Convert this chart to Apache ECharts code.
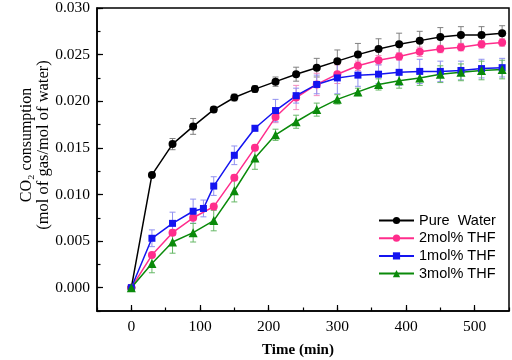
<!DOCTYPE html>
<html>
<head>
<meta charset="utf-8">
<script src="https://cdn.jsdelivr.net/npm/echarts@6/dist/echarts.min.js"></script>
<style>
html,body{margin:0;padding:0;background:#fff;}
#c{width:512px;height:360px;}
</style>
</head>
<body>
<div id="c"></div>
<script>
// ---- data ----
var times = [0,30,60,90,120,150,180,210,240,270,300,330,360,390,420,450,480,510,540];
var blueTimes = [0,30,60,90,105,120,150,180,210,240,270,300,330,360,390,420,450,480,510,540];

var pureWater = [0,0.0121,0.0154,0.0173,0.0191,0.0204,0.0213,0.0221,0.0229,0.0236,0.0243,0.0250,0.0256,0.0261,0.0265,0.0269,0.0271,0.0271,0.0273];
var thf2 = [0,0.0035,0.0059,0.0075,0.0087,0.0118,0.0150,0.0183,0.0204,0.0218,0.0229,0.0238,0.0244,0.0248,0.0253,0.0256,0.0258,0.0261,0.0263];
var thf1 = [0,0.0053,0.0069,0.0082,0.0085,0.0109,0.0142,0.0171,0.0190,0.0206,0.0218,0.0225,0.0228,0.0229,0.0231,0.0232,0.0232,0.0233,0.0235,0.0236];
var thf3 = [0,0.0026,0.0049,0.0059,0.0072,0.0104,0.0139,0.0164,0.0178,0.0191,0.0202,0.0210,0.0218,0.0222,0.0225,0.0229,0.0231,0.0233,0.0234];

var pureErr = [0,0.0002,0.0006,0.00085,0.0003,0.00036,0.00036,0.0005,0.00075,0.001,0.0012,0.0012,0.0011,0.0012,0.001,0.001,0.0009,0.0009,0.0008];
var thf2Err = [0,0.0002,0.0003,0.0003,0.0003,0.0003,0.0003,0.0006,0.0013,0.0012,0.001,0.0005,0.0005,0.0004,0.0005,0.0004,0.0004,0.0004,0.0004];
var thf1Err = [0,0.0009,0.0012,0.0013,0.0009,0.001,0.001,0.0003,0.0012,0.0008,0.001,0.0017,0.0012,0.001,0.0014,0.0013,0.0011,0.001,0.001,0.001];
var thf3Err = [0,0.001,0.0012,0.001,0.0011,0.0012,0.0012,0.0006,0.0007,0.0007,0.0005,0.0004,0.0006,0.0008,0.0008,0.0009,0.0009,0.001,0.001];

var seriesNames = ['Pure  Water','2mol% THF','1mol% THF','3mol% THF'];
var xTicks = [0,100,200,300,400,500];
var yTicks = [0,0.005,0.010,0.015,0.020,0.025,0.030];

// ---- chart ----
var serif = 'Liberation Serif, Times New Roman, serif';
var sans = 'Liberation Sans, Arial, sans-serif';

function pairs(xs, ys){ return xs.map(function(x,i){ return [x, ys[i]]; }); }
function triples(xs, ys, es){ return xs.map(function(x,i){ return [x, ys[i], es[i]]; }); }

function errRender(color){
  return function(params, api){
    var x = api.value(0), y = api.value(1), e = api.value(2);
    if (!e) return null;
    var top = api.coord([x, y + e]);
    var bot = api.coord([x, y - e]);
    var hw = 3;
    var st = {stroke: color, lineWidth: 1};
    return {type:'group', children:[
      {type:'line', shape:{x1:top[0], y1:top[1], x2:bot[0], y2:bot[1]}, style:st},
      {type:'line', shape:{x1:top[0]-hw, y1:top[1], x2:top[0]+hw, y2:top[1]}, style:st},
      {type:'line', shape:{x1:bot[0]-hw, y1:bot[1], x2:bot[0]+hw, y2:bot[1]}, style:st}
    ]};
  };
}

var colors = ['#000000','#ff2d8c','#1414f0','#0a8a0a'];
var errColors = ['#808080','#f48cc0','#9090f0','#66b866'];

function lineSeries(name, data, color, symbol, size){
  return {
    type:'line', name:name, data:data, symbol:symbol, symbolSize:size,
    lineStyle:{color:color, width:1.5}, itemStyle:{color:color},
    z:3, animation:false
  };
}
function errSeries(data, color){
  return {
    type:'custom', data:data, renderItem:errRender(color),
    encode:{x:0, y:1}, z:2, silent:true, animation:false
  };
}

var chart = echarts.init(document.getElementById('c'), null, {renderer:'canvas'});
chart.setOption({
  animation:false,
  backgroundColor:'#fff',
  grid:{left:97, right:3, top:7, bottom:49, show:true, borderColor:'#000', borderWidth:1.5, backgroundColor:'transparent'},
  xAxis:[
    {type:'value', min:-50, max:550, position:'bottom',
     axisLine:{show:true, onZero:false, lineStyle:{color:'#000', width:1.5}},
     axisTick:{show:true, inside:true, length:6, customValues:xTicks, lineStyle:{color:'#000', width:1.2}},
     axisLabel:{customValues:xTicks, color:'#000', fontFamily:serif, fontSize:15.5, margin:8},
     splitLine:{show:false}},
    {type:'value', min:-50, max:550, interval:50, position:'bottom',
     axisLine:{show:false, onZero:false},
     axisTick:{show:true, inside:true, length:3.5, lineStyle:{color:'#000', width:1.2}},
     axisLabel:{show:false}, splitLine:{show:false}}
  ],
  yAxis:[
    {type:'value', min:-0.0025, max:0.030, position:'left',
     axisLine:{show:true, onZero:false, lineStyle:{color:'#000', width:1.5}},
     axisTick:{show:true, inside:true, length:6, customValues:yTicks, lineStyle:{color:'#000', width:1.2}},
     axisLabel:{customValues:yTicks, color:'#000', fontFamily:serif, fontSize:15.5, margin:7,
                formatter:function(v){ return v.toFixed(3); }},
     splitLine:{show:false}},
    {type:'value', min:-0.0025, max:0.030, interval:0.0025, position:'left',
     axisLine:{show:false, onZero:false},
     axisTick:{show:true, inside:true, length:3.5, lineStyle:{color:'#000', width:1.2}},
     axisLabel:{show:false}, splitLine:{show:false}}
  ],
  legend:{
    orient:'vertical', left:378, top:213, padding:0,
    itemWidth:35, itemHeight:9, itemGap:2.7,
    data:seriesNames,
    textStyle:{fontFamily:sans, fontSize:14.5, color:'#000', lineHeight:15}
  },
  graphic:[
    {type:'text', x:27, y:145, rotation:Math.PI/2,
     style:{text:'CO\u2082 consumption', font:'16px ' + serif, fill:'#000', align:'center', verticalAlign:'middle', textAlign:'center', textVerticalAlign:'middle'}},
    {type:'text', x:44, y:145, rotation:Math.PI/2,
     style:{text:'(mol of gas/mol of water)', font:'16.5px ' + serif, fill:'#000', align:'center', verticalAlign:'middle', textAlign:'center', textVerticalAlign:'middle'}},
    {type:'text', x:298, y:350,
     style:{text:'Time (min)', font:'bold 15px ' + serif, fill:'#000', align:'center', verticalAlign:'middle', textAlign:'center', textVerticalAlign:'middle'}}
  ],
  series:[
    errSeries(triples(times, pureWater, pureErr), errColors[0]),
    errSeries(triples(times, thf2, thf2Err), errColors[1]),
    errSeries(triples(blueTimes, thf1, thf1Err), errColors[2]),
    errSeries(triples(times, thf3, thf3Err), errColors[3]),
    lineSeries(seriesNames[0], pairs(times, pureWater), colors[0], 'circle', 8),
    lineSeries(seriesNames[1], pairs(times, thf2), colors[1], 'circle', 8),
    lineSeries(seriesNames[2], pairs(blueTimes, thf1), colors[2], 'rect', 7),
    lineSeries(seriesNames[3], pairs(times, thf3), colors[3], 'triangle', 9)
  ]
});
</script>
</body>
</html>
